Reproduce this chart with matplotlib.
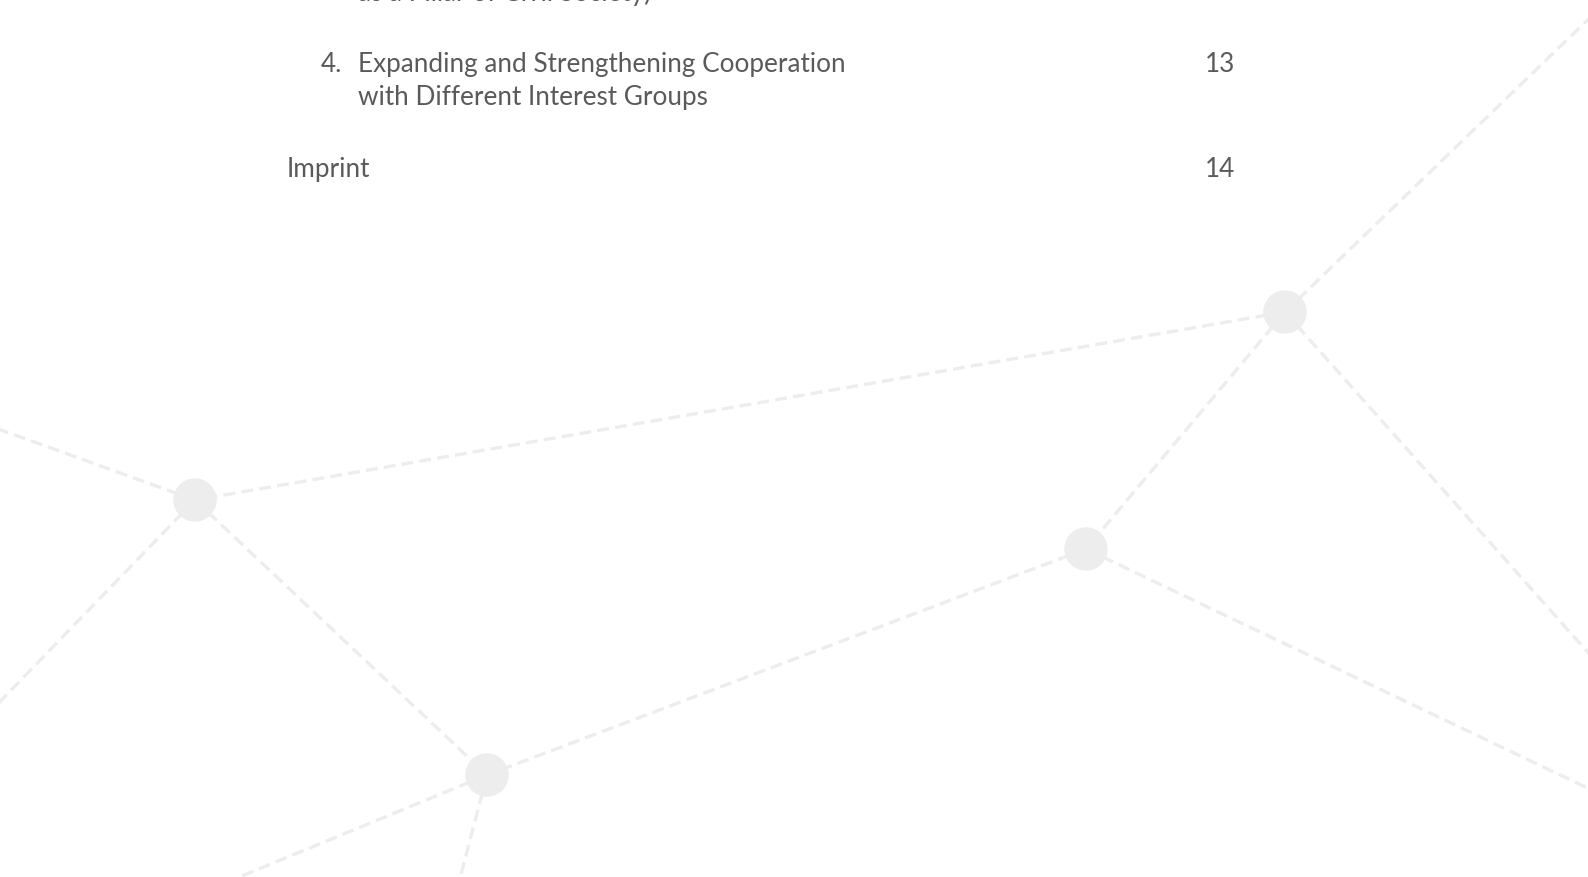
import matplotlib
matplotlib.use("Agg")
import matplotlib.pyplot as plt
from matplotlib.patches import Circle

# TABLE OF CONTENTS DATA
entry_numbers = ["", "4.", ""]
entry_lines = [
    ["as a Pillar of Civil Society)"],
    ["Expanding and Strengthening Cooperation", "with Different Interest Groups"],
    ["Imprint"],
]
entry_pages = ["", "13", "14"]

# network decoration, page pixel coordinates
node_xy = {"A": (195, 500), "B": (487, 775), "C": (1285, 312), "D": (1086, 549)}
edge_list = [
    ("C", (1600, 8)), ("C", "A"), ("C", (1600, 666)), ("C", "D"),
    ("D", "B"), ("D", (1600, 794)),
    ("A", (-10, 426)), ("A", (-10, 712)), ("A", "B"),
    ("B", (232, 880)), ("B", (459, 882)),
]

W, H = 1588, 877
TEXT_COL = "#5a5a5a"
DECO_COL = "#ededed"

plt.rcParams['font.family'] = ['Lato', 'DejaVu Sans']
plt.rcParams['lines.scale_dashes'] = False

fig = plt.figure(figsize=(W / 100, H / 100), dpi=100)
ax = fig.add_axes([0, 0, 1, 1])
ax.set_xlim(0, W)
ax.set_ylim(H, 0)
ax.axis('off')


def pt(p):
    return node_xy[p] if isinstance(p, str) else p


for a, b in edge_list:
    (x0, y0), (x1, y1) = pt(a), pt(b)
    ax.plot([x0, x1], [y0, y1], color=DECO_COL, lw=2.4,
            linestyle=(0, (8.5, 4.5)), solid_capstyle='butt', zorder=1)

for x, y in node_xy.values():
    ax.add_patch(Circle((x, y), 21, color=DECO_COL, zorder=2))

# TEXT
fs = 18.8
baselines = [1.5, 72, 177]
line_gap = 33
for num, lines, page, yb in zip(entry_numbers, entry_lines, entry_pages, baselines):
    x_text = 358 if (num or yb < 20) else 287
    if num:
        ax.text(321, yb, num, fontsize=fs, color=TEXT_COL, va='baseline', ha='left', zorder=3)
    for i, ln in enumerate(lines):
        ax.text(x_text, yb + i * line_gap, ln, fontsize=fs, color=TEXT_COL,
                va='baseline', ha='left', zorder=3)
    if page:
        ax.text(1235, yb, page, fontsize=fs, color=TEXT_COL, va='baseline', ha='right', zorder=3)

fig.savefig("out.png", dpi=100, facecolor='white')
